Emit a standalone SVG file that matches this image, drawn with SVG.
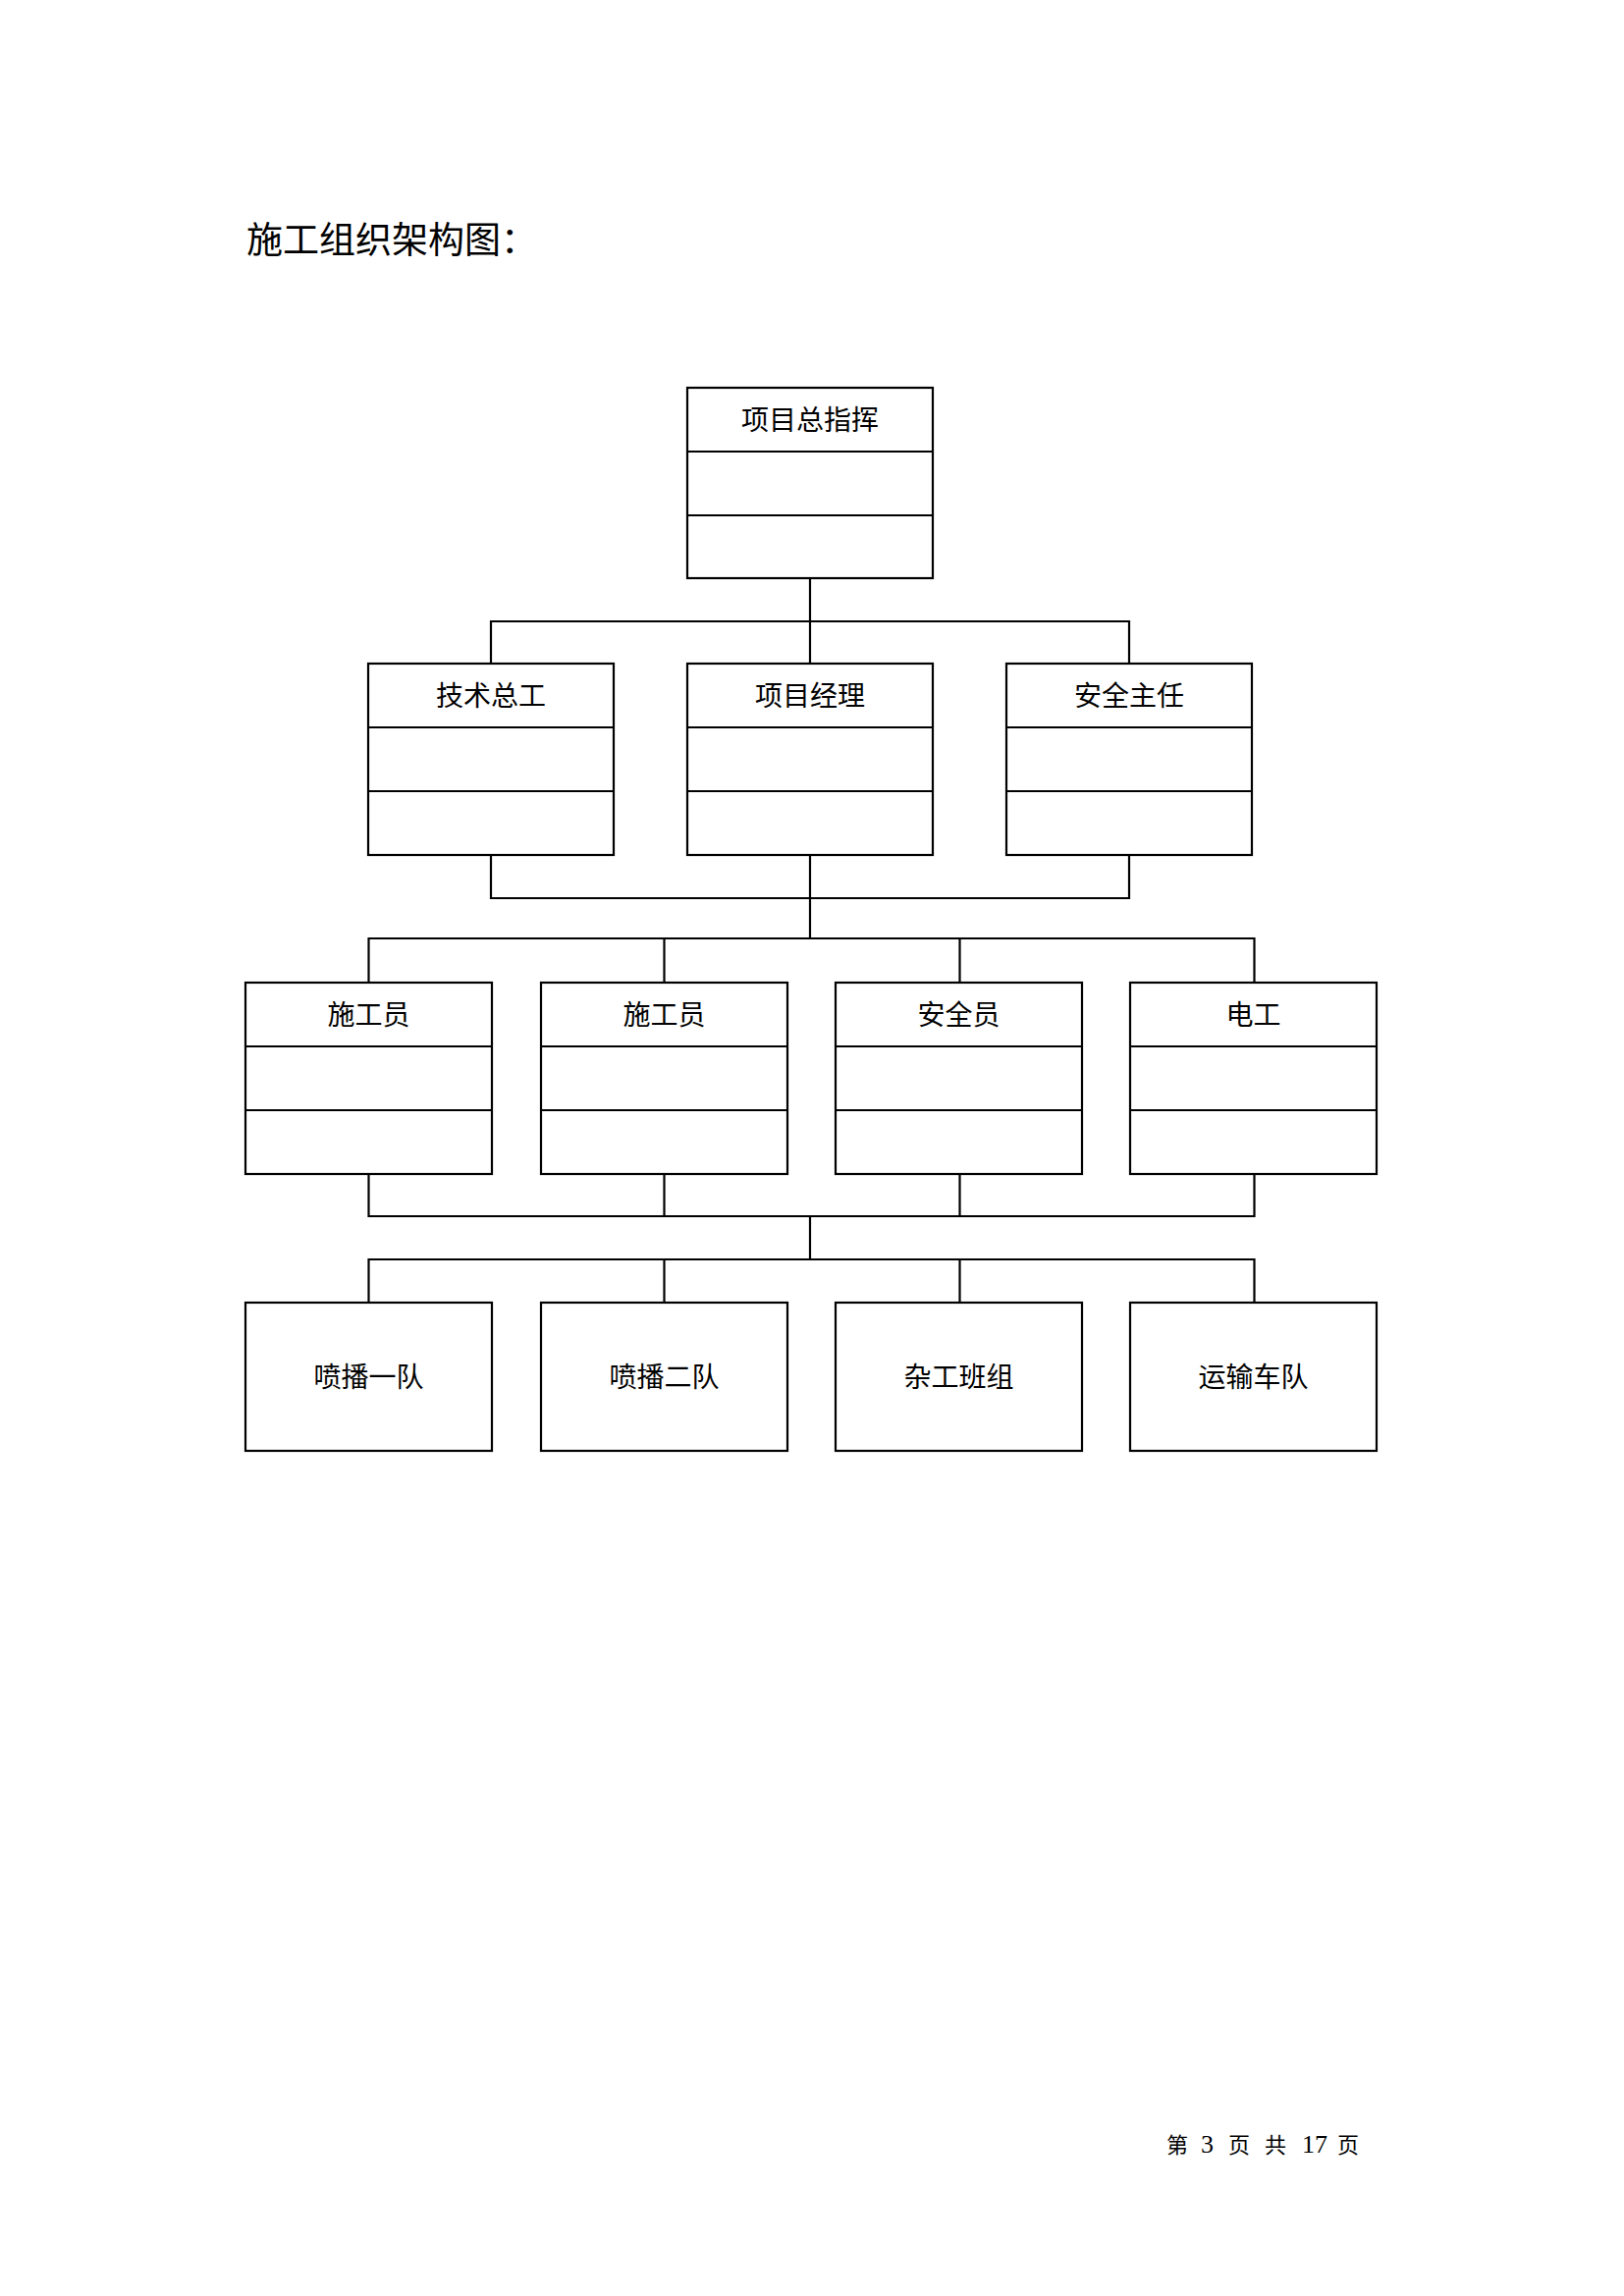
<svg xmlns="http://www.w3.org/2000/svg" width="1654" height="2339" viewBox="0 0 1654 2339">
<style>
.box{fill:#fff;stroke:#000;stroke-width:2.2}
.div{stroke:#000;stroke-width:2.2}
.con{fill:none;stroke:#000;stroke-width:2.2}
.lbl{font-family:"Liberation Serif","Noto Sans CJK SC",serif;font-size:28px;fill:#000;text-anchor:middle}
.title{font-family:"Liberation Serif","Noto Sans CJK SC",serif;font-size:37px;fill:#000}
.foot{font-family:"Liberation Serif","Noto Sans CJK SC",serif;font-size:22px;fill:#000}
.num{font-size:26px}
</style>
<rect width="1654" height="2339" fill="#fff"/>
<text class="title" x="251" y="258">施工组织架构图：</text>

<g id="connectors">
<path class="con" d="M825 589V676 M500 676V633H1150V676"/>
<path class="con" d="M500 871V915H1150V871 M825 871V956 M375.5 1001V956H1277.5V1001 M676.5 956V1001 M977.5 956V1001"/>
<path class="con" d="M375.5 1196V1239H1277.5V1196 M676.5 1196V1239 M977.5 1196V1239 M825 1239V1283 M375.5 1327V1283H1277.5V1327 M676.5 1283V1327 M977.5 1283V1327"/>
</g>

<g id="n-zongzhihui">
<rect class="box" x="700" y="395" width="250" height="194"/>
<line class="div" x1="700" y1="460" x2="950" y2="460"/>
<line class="div" x1="700" y1="525" x2="950" y2="525"/>
<text class="lbl" x="825" y="438">项目总指挥</text>
</g>

<g id="n-jishuzonggong">
<rect class="box" x="375" y="676" width="250" height="195"/>
<line class="div" x1="375" y1="741" x2="625" y2="741"/>
<line class="div" x1="375" y1="806" x2="625" y2="806"/>
<text class="lbl" x="500" y="719">技术总工</text>
</g>
<g id="n-xiangmujingli">
<rect class="box" x="700" y="676" width="250" height="195"/>
<line class="div" x1="700" y1="741" x2="950" y2="741"/>
<line class="div" x1="700" y1="806" x2="950" y2="806"/>
<text class="lbl" x="825" y="719">项目经理</text>
</g>
<g id="n-anquanzhuren">
<rect class="box" x="1025" y="676" width="250" height="195"/>
<line class="div" x1="1025" y1="741" x2="1275" y2="741"/>
<line class="div" x1="1025" y1="806" x2="1275" y2="806"/>
<text class="lbl" x="1150" y="719">安全主任</text>
</g>

<g id="n-shigongyuan1">
<rect class="box" x="250" y="1001" width="251" height="195"/>
<line class="div" x1="250" y1="1066" x2="501" y2="1066"/>
<line class="div" x1="250" y1="1131" x2="501" y2="1131"/>
<text class="lbl" x="375.5" y="1044">施工员</text>
</g>
<g id="n-shigongyuan2">
<rect class="box" x="551" y="1001" width="251" height="195"/>
<line class="div" x1="551" y1="1066" x2="802" y2="1066"/>
<line class="div" x1="551" y1="1131" x2="802" y2="1131"/>
<text class="lbl" x="676.5" y="1044">施工员</text>
</g>
<g id="n-anquanyuan">
<rect class="box" x="851" y="1001" width="251" height="195"/>
<line class="div" x1="851" y1="1066" x2="1102" y2="1066"/>
<line class="div" x1="851" y1="1131" x2="1102" y2="1131"/>
<text class="lbl" x="976.5" y="1044">安全员</text>
</g>
<g id="n-diangong">
<rect class="box" x="1151" y="1001" width="251" height="195"/>
<line class="div" x1="1151" y1="1066" x2="1402" y2="1066"/>
<line class="div" x1="1151" y1="1131" x2="1402" y2="1131"/>
<text class="lbl" x="1276.5" y="1044">电工</text>
</g>

<g id="n-penbo1">
<rect class="box" x="250" y="1327" width="251" height="151"/>
<text class="lbl" x="375.5" y="1413">喷播一队</text>
</g>
<g id="n-penbo2">
<rect class="box" x="551" y="1327" width="251" height="151"/>
<text class="lbl" x="676.5" y="1413">喷播二队</text>
</g>
<g id="n-zagong">
<rect class="box" x="851" y="1327" width="251" height="151"/>
<text class="lbl" x="976.5" y="1413">杂工班组</text>
</g>
<g id="n-yunshu">
<rect class="box" x="1151" y="1327" width="251" height="151"/>
<text class="lbl" x="1276.5" y="1413">运输车队</text>
</g>

<text class="foot" y="2193"><tspan x="1188">第</tspan><tspan class="num" x="1223">3</tspan><tspan x="1251">页</tspan><tspan x="1288">共</tspan><tspan class="num" x="1326">17</tspan><tspan x="1362">页</tspan></text>
</svg>
